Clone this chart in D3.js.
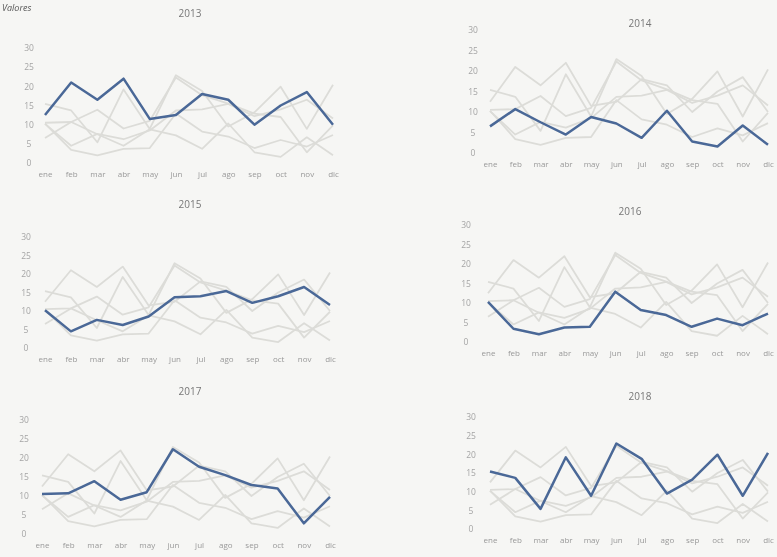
<!DOCTYPE html>
<html>
<head>
<meta charset="utf-8">
<script src="https://cdn.jsdelivr.net/npm/d3@7"></script>
<style>
  html, body { margin: 0; padding: 0; background: #f6f6f4; }
  svg { display: block; filter: blur(0.5px); }
  text { font-family: "Open Sans", "Noto Sans", sans-serif; }
</style>
</head>
<body>
<svg id="chart" width="777" height="557"></svg>
<script>
// ---- data ----
const months = ["ene","feb","mar","abr","may","jun","jul","ago","sep","oct","nov","dic"];
const years = ["2013","2014","2015","2016","2017","2018"];
const yTicks = [0,5,10,15,20,25,30];
const v2013 = [12.5, 21, 16.5, 22, 11.5, 12.5, 18, 16.5, 10, 15, 18.5, 10];
const v2014 = [6.5, 10.7, 7.5, 4.5, 8.8, 7.2, 3.7, 10.3, 2.8, 1.6, 6.7, 2];
const v2015 = [10.2, 4.5, 7.6, 6.2, 8.5, 13.7, 14, 15.4, 12.2, 14, 16.5, 11.6];
const v2016 = [10.3, 3.4, 2, 3.7, 3.9, 12.9, 8.2, 6.9, 3.9, 6, 4.3, 7.3];
const v2017 = [10.5, 10.7, 13.9, 9, 11, 22.3, 17.7, 15.5, 12.9, 12, 2.8, 9.8];
const v2018 = [15.4, 13.7, 5.4, 19.2, 8.9, 22.9, 18.8, 9.5, 13.2, 19.9, 8.9, 20.4];
const series = [v2013, v2014, v2015, v2016, v2017, v2018];

// ---- layout (panel geometry) ----
const panels = [
  {title:[190,17],  x0:45,  x1:333, yTop:48,  yBot:163, lab:25},
  {title:[640,27],  x0:490, x1:768, yTop:30,  yBot:153, lab:469},
  {title:[190,208], x0:45,  x1:330, yTop:237, yBot:348, lab:22},
  {title:[630,215], x0:488, x1:768, yTop:225, yBot:342, lab:462},
  {title:[190,395], x0:42,  x1:330, yTop:420, yBot:534, lab:20},
  {title:[640,400], x0:490, x1:768, yTop:417, yBot:529, lab:467}
];

const svg = d3.select("#chart");

// heading at top-left
svg.append("text").attr("x", 2).attr("y", 11)
  .attr("font-size", 9).attr("font-style","italic").attr("fill","#555").text("Valores");

panels.forEach((p, i) => {
  const g = svg.append("g");
  const x = d3.scalePoint().domain(months).range([p.x0, p.x1]);
  const y = d3.scaleLinear().domain([0, 30]).range([p.yBot, p.yTop]);
  const line = d3.line().x((d, k) => x(months[k])).y(d => y(d));

  g.append("text").attr("x", p.title[0]).attr("y", p.title[1])
    .attr("text-anchor","middle").attr("font-size", 10).attr("fill","#777")
    .text(years[i]);

  const ya = g.append("g").attr("transform", `translate(${p.lab + 4},0)`)
    .call(d3.axisLeft(y).tickValues(yTicks).tickSize(0).tickPadding(0));
  ya.select(".domain").remove();
  ya.selectAll("text").attr("font-size", 8.5).attr("fill","#a5a5a5")
    .attr("font-family","'Open Sans', sans-serif").attr("text-anchor","middle");

  const xa = g.append("g").attr("transform", `translate(0,${p.yBot + 5})`)
    .call(d3.axisBottom(x).tickSize(0).tickPadding(3));
  xa.select(".domain").remove();
  xa.selectAll("text").attr("font-size", 8).attr("fill","#999")
    .attr("font-family","'Open Sans', sans-serif");

  series.forEach((s, j) => {
    if (j === i) return;
    g.append("path").datum(s).attr("d", line)
      .attr("fill","none").attr("stroke","#dcdcd8").attr("stroke-width",1.8)
      .attr("stroke-linejoin","round");
  });
  g.append("path").datum(series[i]).attr("d", line)
    .attr("fill","none").attr("stroke","#4a6897").attr("stroke-width",2.5)
    .attr("stroke-linejoin","round");
});
</script>
</body>
</html>
